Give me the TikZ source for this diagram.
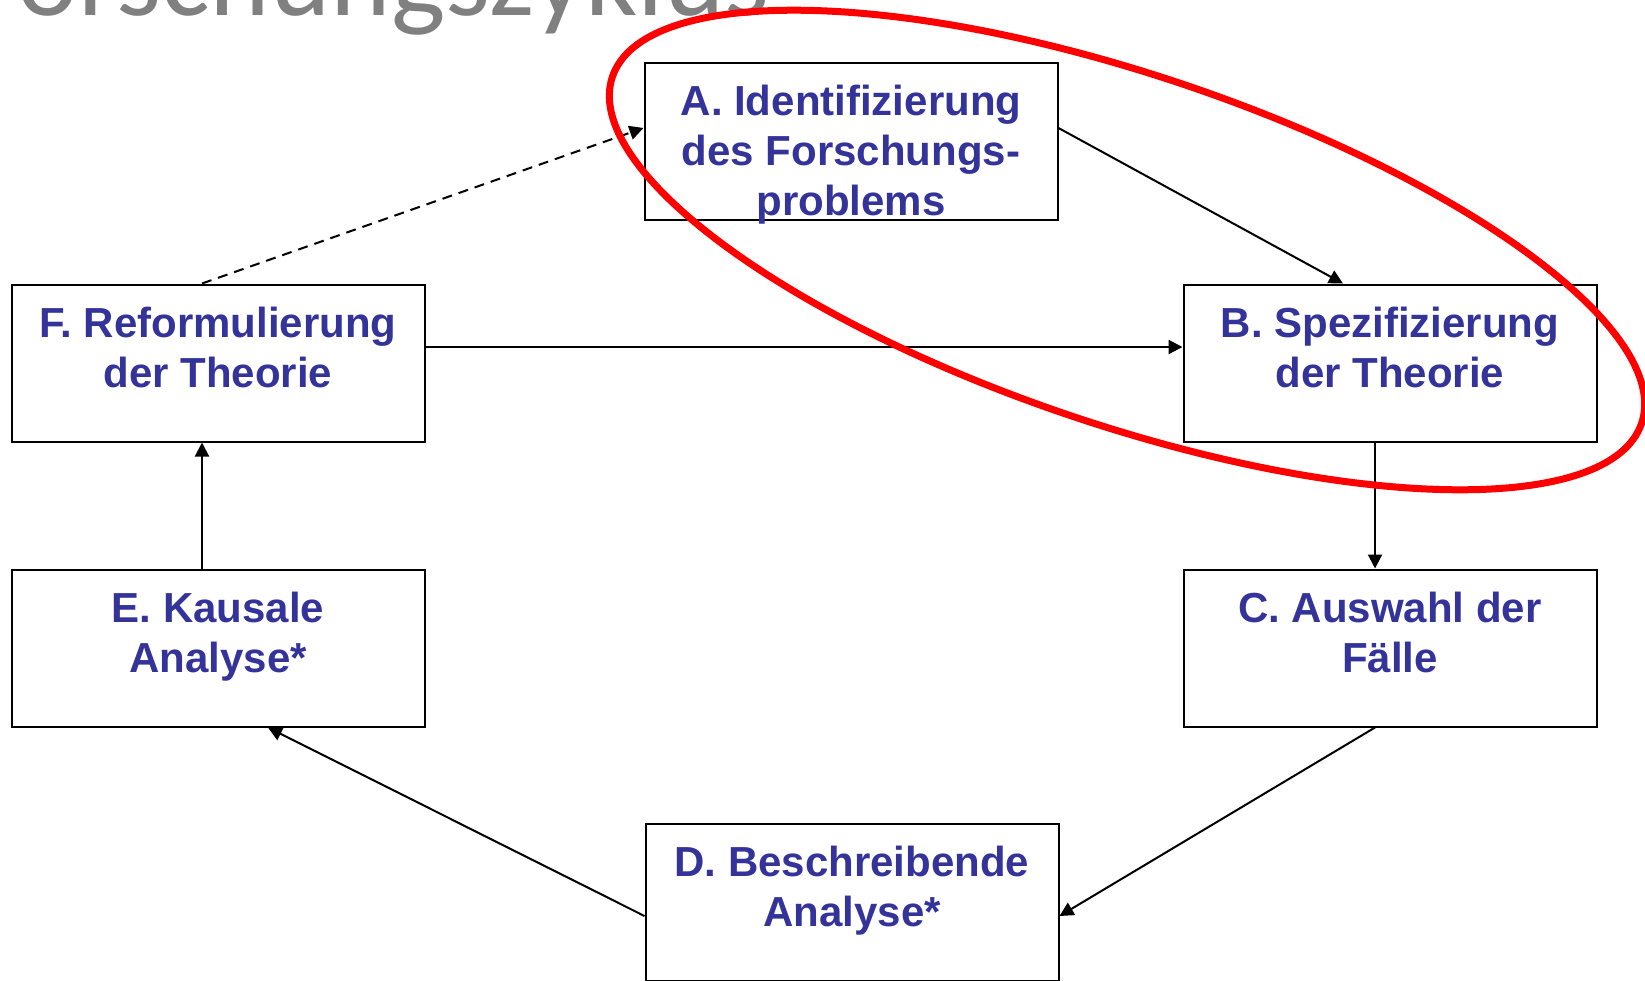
\documentclass[tikz,border=0pt]{standalone}
\usepackage{fontspec}
\setmainfont{Liberation Sans}
\newfontfamily\titlefont{Carlito}
\usetikzlibrary{arrows.meta, positioning}
\definecolor{stageblue}{RGB}{51,51,153}
\definecolor{titlegray}{RGB}{128,128,128}

\begin{document}
\begin{tikzpicture}[x=1pt, y=-1pt,
	stage/.style={draw, line width=2pt, minimum width=413pt, minimum height=157pt, inner sep=0pt},
	stagetext/.style={anchor=north, inner sep=0pt, align=center, text=stageblue, font=\bfseries\fontsize{42}{50}\selectfont},
	flow/.style={line width=2pt, -{Triangle[length=14pt, width=14pt]}}]
	\useasboundingbox (0,0) rectangle (1645,980);
	\clip (0,0) rectangle (1645,980);

	% title, cut off at the top
	\node[anchor=base east, inner sep=0pt, text=titlegray, font=\titlefont\fontsize{115}{120}\selectfont] (title) at (770,15) {Forschungszyklus};

	% stages
	\node[stage] (a) at (851,141) {};
	\node[stage] (b) at (1390,363) {};
	\node[stage] (c) at (1390,648) {};
	\node[stage] (d) at (852,902) {};
	\node[stage] (e) at (218,648) {};
	\node[stage] (f) at (218,363) {};

	\node[stagetext] (atext) at ([yshift=-23pt]a.north) {A. Identifizierung\\des Forschungs-\\problems};
	\node[stagetext] (btext) at ([yshift=-23pt]b.north) {B. Spezifizierung\\der Theorie};
	\node[stagetext] (ctext) at ([yshift=-23pt]c.north) {C. Auswahl der\\Fälle};
	\node[stagetext] (dtext) at ([yshift=-23pt]d.north) {D. Beschreibende\\Analyse*};
	\node[stagetext] (etext) at ([yshift=-23pt]e.north) {E. Kausale\\Analyse*};
	\node[stagetext] (ftext) at ([yshift=-23pt]f.north) {F. Reformulierung\\der Theorie};

	% cycle
	\draw[flow] ([yshift=13pt]a.east) -- ([xshift=-47pt]b.north);
	\draw[flow] ([xshift=-15pt]b.south) -- ([xshift=-15pt]c.north);
	\draw[flow] ([xshift=-15pt]c.south) -- ([yshift=-14pt]d.east);
	\draw[flow] ([yshift=-14pt]d.west) -- ([xshift=50pt]e.south);
	\draw[flow] ([xshift=-16pt]e.north) -- ([xshift=-16pt]f.south);
	\draw[flow] ([yshift=16pt]f.east) -- ([yshift=16pt]b.west);
	\draw[flow, dash pattern=on 10pt off 7pt] ([xshift=-16pt]f.north) -- ([yshift=13pt]a.west);

	% marking
	\draw[red, line width=7pt, rotate around={-18.6:(1127,250)}] (1127,250) ellipse (543pt and 175pt);
\end{tikzpicture}
\end{document}
